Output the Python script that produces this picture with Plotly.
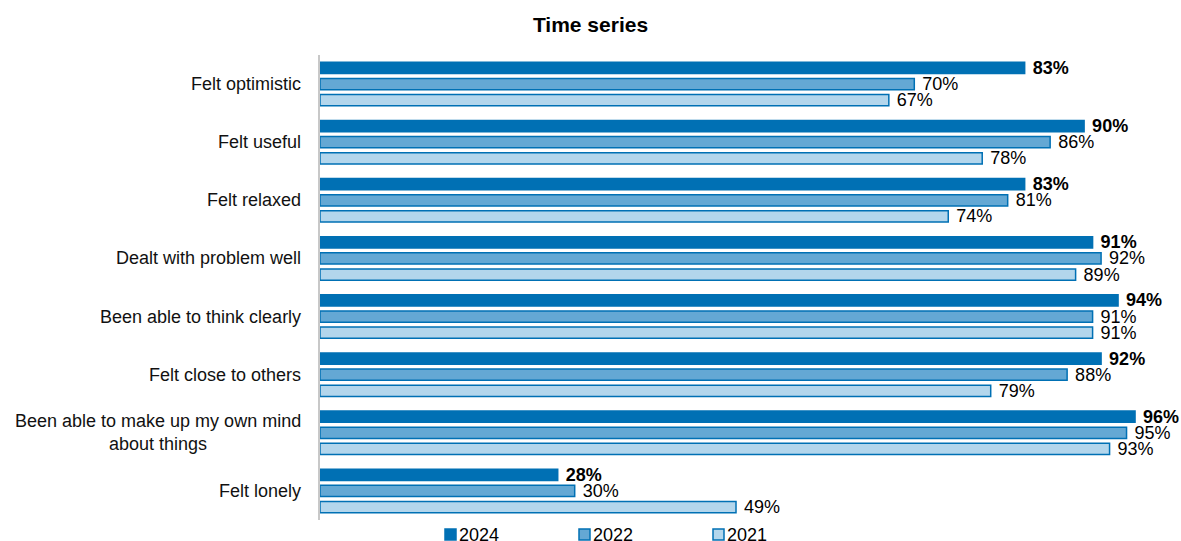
import plotly.graph_objects as go

categories = [
    "Felt optimistic",
    "Felt useful",
    "Felt relaxed",
    "Dealt with problem well",
    "Been able to think clearly",
    "Felt close to others",
    "Been able to make up my own mind<br>about things",
    "Felt lonely",
]
values_2024 = [83, 90, 83, 91, 94, 92, 96, 28]
values_2022 = [70, 86, 81, 92, 91, 88, 95, 30]
values_2021 = [67, 78, 74, 89, 91, 79, 93, 49]

series = [
    ("2024", values_2024, "#0070B4", "#0070B4", "\u00a0<b>%{x}%</b>"),
    ("2022", values_2022, "#64A8D4", "#0070B4", "\u00a0%{x}%"),
    ("2021", values_2021, "#B3D6EC", "#0070B4", "\u00a0%{x}%"),
]

FONT = "Liberation Sans, Arial, sans-serif"
W, H = 1181, 541
M = dict(l=320, r=12, t=55, b=21)
plot_w = W - M["l"] - M["r"]
plot_h = H - M["t"] - M["b"]


def px_to_paper_x(px):
    return (px - M["l"]) / plot_w


def px_to_paper_y(py):
    return (H - M["b"] - py) / plot_h


fig = go.Figure()
for name, vals, fill, edge, tmpl in series:
    fig.add_trace(go.Bar(
        name=name,
        y=categories,
        x=vals,
        orientation="h",
        marker=dict(color=fill, line=dict(color=edge, width=1.5)),
        texttemplate=tmpl,
        textposition="outside",
        constraintext="none",
        cliponaxis=False,
        textfont=dict(family=FONT, size=18, color="#000000"),
        showlegend=False,
    ))

# category labels: right-aligned block, centred lines
for cat in categories:
    fig.add_annotation(
        x=0, xref="paper", xanchor="right", xshift=-17,
        y=cat, yref="y", yanchor="middle",
        text=cat, showarrow=False, align="center",
        font=dict(family=FONT, size=18, color="#111111"),
    )

# legend drawn along the bottom edge: small square key + year label
legend_keys = [(444, series[0]), (578, series[1]), (712, series[2])]
for left_px, (name, _, fill, edge, _) in legend_keys:
    fig.add_shape(
        type="rect", xref="paper", yref="paper",
        x0=px_to_paper_x(left_px + 1), x1=px_to_paper_x(left_px + 12),
        y0=px_to_paper_y(529), y1=px_to_paper_y(540),
        fillcolor=fill, line=dict(color=edge, width=1.5),
    )
    fig.add_annotation(
        x=px_to_paper_x(left_px + 13), xref="paper", xanchor="left",
        y=px_to_paper_y(535), yref="paper", yanchor="middle",
        text=name, showarrow=False,
        font=dict(family=FONT, size=18, color="#000000"),
    )

fig.update_layout(
    width=W, height=H,
    margin=M,
    paper_bgcolor="white", plot_bgcolor="white",
    barmode="group", bargap=0.17, bargroupgap=0.3,
    title=dict(text="<b>Time series</b>", x=0.5, xanchor="center", y=1 - 25 / H, yanchor="middle",
               font=dict(family=FONT, size=21, color="#000000")),
    xaxis=dict(range=[0, 100], visible=False),
    yaxis=dict(autorange="reversed", showticklabels=False, ticks="",
               showline=True, linecolor="#c8c8c8", linewidth=2, showgrid=False),
    showlegend=False,
)

fig.write_html("out.html")
